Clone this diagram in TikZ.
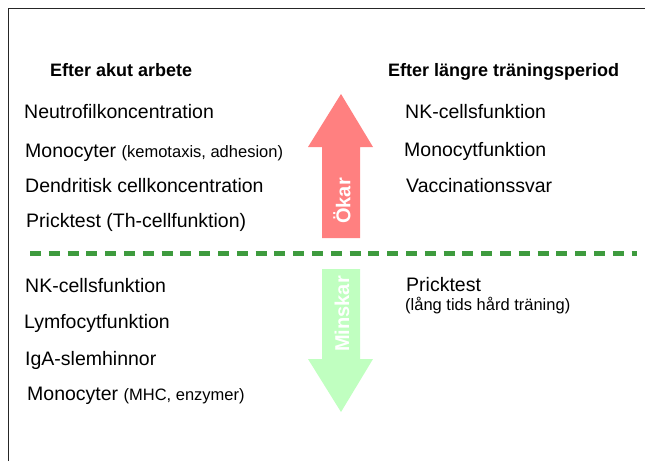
\documentclass[tikz,border=0pt]{standalone}
\usepackage{fontspec}
\setmainfont{Liberation Sans}
\definecolor{uparrow}{RGB}{255,128,128}
\definecolor{downarrow}{RGB}{192,255,192}
\definecolor{dashgreen}{RGB}{62,155,62}
\tikzset{
  item/.style={anchor=base west, inner sep=0pt, font=\fontsize{19.5}{22}\selectfont},
  small/.style={anchor=base west, inner sep=0pt, font=\fontsize{16.5}{19}\selectfont},
  head/.style={anchor=base west, inner sep=0pt, font=\fontsize{18}{21}\selectfont\bfseries},
  arrowlabel/.style={inner sep=0pt, rotate=90, text=white, font=\fontsize{20}{22}\selectfont\bfseries},
  frame/.style={line width=1.3pt, draw=black!85},
  divider/.style={line width=5pt, draw=dashgreen, dash pattern=on 11pt off 7.8pt}
}
\begin{document}
\begin{tikzpicture}[x=1pt,y=-1pt]
\useasboundingbox (0,0) rectangle (645,461);
\fill[white] (0,0) rectangle (645,461);
% frame
\coordinate (fbl) at (8.5,461);
\coordinate (ftl) at (8.5,8.5);
\coordinate (ftr) at (645,8.5);
\draw[frame] (fbl) -- (ftl) -- (ftr);
% arrows
\fill[uparrow] (341,94) -- (373,147) -- (360,147) -- (360,238) -- (322,238) -- (322,147) -- (308,147) -- cycle;
\fill[downarrow] (341,412) -- (373,359) -- (360,359) -- (360,269) -- (322,269) -- (322,359) -- (308,359) -- cycle;
\node[arrowlabel] (okar) at (342,201) {Ökar};
\node[arrowlabel] (minskar) at (342,314) {Minskar};
% divider
\coordinate (dl) at (30,253);
\coordinate (dr) at (637,253);
\draw[divider] (dl) -- (dr);
% headers
\node[head] (h1) at (50,76) {Efter akut arbete};
\node[head] (h2) at (388,76) {Efter längre träningsperiod};
% top left
\node[item] (a1) at (24,118) {Neutrofilkoncentration};
\node[item] (a2) at (25,157) {Monocyter \fontsize{16.5}{19}\selectfont(kemotaxis, adhesion)};
\node[item] (a3) at (25,192) {Dendritisk cellkoncentration};
\node[item] (a4) at (26,227) {Pricktest (Th-cellfunktion)};
% top right
\node[item] (b1) at (405,118) {NK-cellsfunktion};
\node[item] (b2) at (404,156) {Monocytfunktion};
\node[item] (b3) at (406,192) {Vaccinationssvar};
% bottom left
\node[item] (c1) at (25,292) {NK-cellsfunktion};
\node[item] (c2) at (24,328) {Lymfocytfunktion};
\node[item] (c3) at (25,365) {IgA-slemhinnor};
\node[item] (c4) at (27,400) {Monocyter \fontsize{16.5}{19}\selectfont(MHC, enzymer)};
% bottom right
\node[item] (d1) at (406,291) {Pricktest};
\node[small] (d2) at (405,310) {(lång tids hård träning)};
\end{tikzpicture}
\end{document}
